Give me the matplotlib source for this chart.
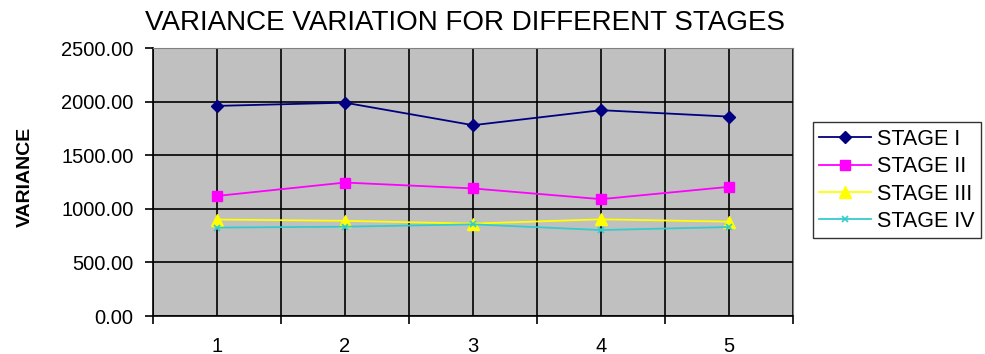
import matplotlib
matplotlib.use("Agg")
import matplotlib.pyplot as plt

# ---------- data ----------
categories = [1, 2, 3, 4, 5]
stage_1 = [1960, 1990, 1780, 1920, 1860]
stage_2 = [1120, 1245, 1190, 1090, 1205]
stage_3 = [900, 888, 862, 902, 880]
stage_4 = [825, 833, 855, 802, 830]
series_names = ["STAGE I", "STAGE II", "STAGE III", "STAGE IV"]
y_ticks = [0, 500, 1000, 1500, 2000, 2500]

plt.rcParams["font.family"] = ["Liberation Sans", "DejaVu Sans"]

fig = plt.figure(figsize=(9.85, 3.54), dpi=100)
ax = fig.add_axes([0.1553, 0.1073, 0.6498, 0.7571])
ax.set_facecolor("#c0c0c0")

styles = [
    dict(color="#000080", marker="D", markersize=6),
    dict(color="#ff00ff", marker="s", markersize=7),
    dict(color="#ffff00", marker="^", markersize=8),
    dict(color="#33cccc", marker="x", markersize=5, markeredgewidth=1.2),
]
for vals, name, st in zip([stage_1, stage_2, stage_3, stage_4], series_names, styles):
    ax.plot(categories, vals, label=name, linewidth=1.3, zorder=3, **st)

ax.set_xlim(0.5, 5.5)
ax.set_ylim(0, 2500)
ax.set_xticks(categories)
ax.set_xticklabels([str(c) for c in categories], fontsize=14.5)
ax.set_xticks([c + 0.5 for c in [0] + categories], minor=True)
ax.tick_params(axis="x", which="major", length=0, pad=15)
ax.tick_params(axis="x", which="minor", length=6, direction="out", width=1.2)
ax.set_yticks(y_ticks)
ax.set_yticklabels([f"{v:.2f}" for v in y_ticks], fontsize=14.5)
ax.tick_params(axis="y", length=6, direction="out", width=1.2, pad=8)

ax.grid(True, which="both", color="black", linewidth=1.2)
ax.set_axisbelow(True)
for side in ["left", "bottom"]:
    ax.spines[side].set_color("black")
    ax.spines[side].set_linewidth(1.2)
for side in ["top", "right"]:
    ax.spines[side].set_color("#808080")

fig.text(0.472, 0.935, "VARIANCE VARIATION FOR DIFFERENT STAGES",
         ha="center", va="center", fontsize=20)
fig.text(0.026, 0.50, "VARIANCE", rotation=90, ha="center", va="center",
         fontsize=14, fontweight="bold")

leg = fig.legend(loc="upper left", bbox_to_anchor=(0.825, 0.655),
                 fontsize=15.5, frameon=True, fancybox=False,
                 edgecolor="black", handlelength=2.4, labelspacing=0.3,
                 borderpad=0.3, handletextpad=0.3, borderaxespad=0)
leg.get_frame().set_linewidth(1.0)

fig.savefig("out.png", dpi=100)
